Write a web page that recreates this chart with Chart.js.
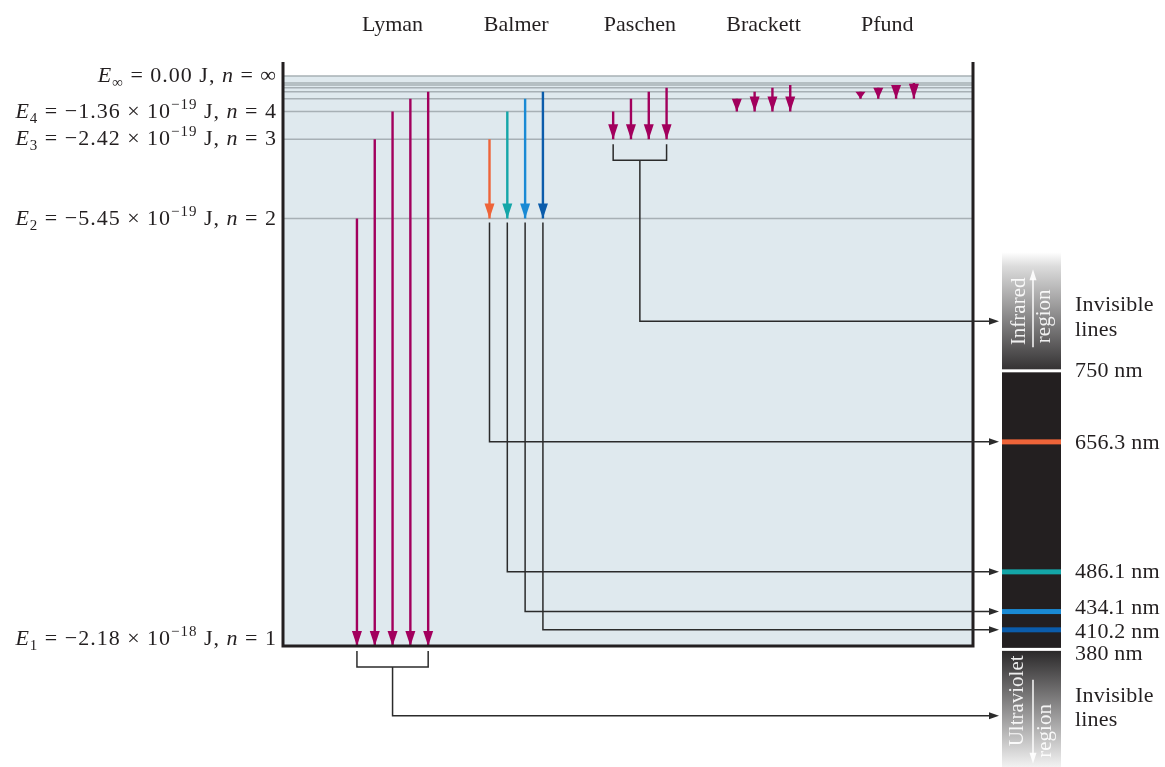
<!DOCTYPE html>
<html><head><meta charset="utf-8">
<script src="https://cdn.jsdelivr.net/npm/chart.js@4/dist/chart.umd.min.js"></script>
<style>html,body{margin:0;padding:0;background:#fff;}canvas{display:block;}</style>
</head><body>
<canvas id="c" width="1165" height="767"></canvas>
<script>
// ---------- data ----------
const seriesNames = ['Lyman', 'Balmer', 'Paschen', 'Brackett', 'Pfund'];
const seriesLower = [1, 2, 3, 4, 5];
const seriesUpper = [[2, 3, 4, 5, 6], [3, 4, 5, 6], [4, 5, 6, 7], [5, 6, 7, 8], [6, 7, 8, 9]];
const levelN = [1, 2, 3, 4, 5, 6, 7, 8, 9];
// energies in units of 1e-19 J
const levelEnergy = [-21.8, -5.45, -2.42, -1.36, -0.872, -0.606, -0.445, -0.341, -0.269];
const infinityEnergy = 0;
const labelN = ['∞', '4', '3', '2', '1'];
const labelSub = ['∞', '4', '3', '2', '1'];
const labelEnergy = [0, -1.36, -2.42, -5.45, -21.8];
const labelMantissa = ['0.00', '−1.36', '−2.42', '−5.45', '−2.18'];
const labelExponent = ['', '−19', '−19', '−19', '−18'];
const balmerWavelengths = [656.3, 486.1, 434.1, 410.2];
const balmerColors = ['#ee6439', '#14a6a8', '#1a8ad4', '#0b5cab'];
const visibleBounds = [750, 380];

// ---------- style ----------
const MAGENTA = '#a2005d';
const INK = '#231f20';
const SERIF = '"Liberation Serif", "Times New Roman", serif';
const arrowSpacing = 0.144;
const balmerLabelNudge = [1, 0, -3, 2];

const E = n => levelEnergy[n - 1];
const arrowX = (s, k) => s + (k - (seriesUpper[s].length - 1) / 2) * arrowSpacing;

const datasets = [];
seriesUpper.forEach((ups, s) => {
  ups.forEach((u, k) => {
    const col = s === 1 ? balmerColors[k] : MAGENTA;
    datasets.push({
      isArrow: true,
      data: [{ x: arrowX(s, k), y: E(u) }, { x: arrowX(s, k), y: E(seriesLower[s]) }],
      borderColor: col, backgroundColor: col, borderWidth: 2.4,
      showLine: true, pointRadius: 0, order: 1, clip: false
    });
  });
});
[...levelEnergy, infinityEnergy].forEach(e => {
  datasets.push({
    data: [{ x: -0.886, y: e }, { x: 4.694, y: e }],
    borderColor: '#a7b0b5', borderWidth: 1.5, showLine: true, pointRadius: 0, order: 2, clip: false
  });
});

function richRight(ctx, segs, xr, yb) {
  let w = 0;
  segs.forEach(s => { ctx.font = s.f; w += ctx.measureText(s.t).width; });
  let x = xr - w;
  segs.forEach(s => {
    ctx.font = s.f;
    ctx.fillText(s.t, x, yb + (s.dy || 0));
    x += ctx.measureText(s.t).width;
  });
}

function arrowHeadH(ctx, x, y, len, hw) {
  ctx.beginPath();
  ctx.moveTo(x, y);
  ctx.lineTo(x - len, y - hw);
  ctx.lineTo(x - len, y + hw);
  ctx.closePath();
  ctx.fill();
}

const diagram = {
  id: 'diagram',
  beforeDatasetsDraw(chart) {
    const { ctx, chartArea: a } = chart;
    ctx.save();
    ctx.fillStyle = '#dfe9ee';
    ctx.fillRect(a.left, a.top, a.right - a.left, a.bottom - a.top);
    ctx.restore();
  },
  afterDatasetsDraw(chart) {
    const { ctx, chartArea: a } = chart;
    const xs = chart.scales.x, ys = chart.scales.y, yw = chart.scales.yw;
    ctx.save();
    // arrowheads
    chart.data.datasets.forEach((ds, i) => {
      if (!ds.isArrow) return;
      const m = chart.getDatasetMeta(i);
      const p0 = m.data[0], p1 = m.data[1];
      const len = Math.min(15, p1.y - p0.y);
      ctx.fillStyle = ds.borderColor;
      ctx.beginPath();
      ctx.moveTo(p1.x, p1.y);
      ctx.lineTo(p1.x - 5, p1.y - len);
      ctx.lineTo(p1.x + 5, p1.y - len);
      ctx.closePath();
      ctx.fill();
    });
    // box borders
    ctx.strokeStyle = INK; ctx.lineWidth = 3; ctx.lineCap = 'butt';
    ctx.beginPath();
    ctx.moveTo(a.left, a.top - 14); ctx.lineTo(a.left, a.bottom + 1.5);
    ctx.moveTo(a.right, a.top - 14); ctx.lineTo(a.right, a.bottom + 1.5);
    ctx.moveTo(a.left, a.bottom); ctx.lineTo(a.right, a.bottom);
    ctx.stroke();

    // level labels on the left
    ctx.fillStyle = INK; ctx.textBaseline = 'alphabetic'; ctx.textAlign = 'left';
    ctx.letterSpacing = '1px';
    const fr = '22px ' + SERIF, fi = 'italic 22px ' + SERIF, fs = '15px ' + SERIF;
    labelN.forEach((n, i) => {
      const y = ys.getPixelForValue(labelEnergy[i]);
      const yb = i === labelN.length - 1 ? y - 1 : y + 6;
      const segs = [{ t: 'E', f: fi }, { t: labelSub[i], f: fs, dy: 5 }];
      if (labelExponent[i]) {
        segs.push({ t: ' = ' + labelMantissa[i] + ' × 10', f: fr });
        segs.push({ t: labelExponent[i], f: fs, dy: -9 });
        segs.push({ t: ' J, ', f: fr });
      } else {
        segs.push({ t: ' = ' + labelMantissa[i] + ' J, ', f: fr });
      }
      segs.push({ t: 'n', f: fi }, { t: ' = ' + n, f: fr });
      richRight(ctx, segs, a.left - 6, yb);
    });
    ctx.letterSpacing = '0px';

    // series names
    ctx.font = '22px ' + SERIF; ctx.textAlign = 'center';
    seriesNames.forEach((nm, s) => ctx.fillText(nm, xs.getPixelForValue(s), 31));

    // spectrum column
    const sl = a.right + 29, sr = sl + 59, sw = sr - sl;
    const p750 = yw.getPixelForValue(visibleBounds[0]);
    const p380 = yw.getPixelForValue(visibleBounds[1]);
    const irTop = p750 - 118, irBot = p750 - 1;
    let g = ctx.createLinearGradient(0, irTop, 0, irBot);
    g.addColorStop(0, '#ffffff'); g.addColorStop(0.12, '#dcdcdc'); g.addColorStop(1, '#353334');
    ctx.fillStyle = g; ctx.fillRect(sl, irTop, sw, irBot - irTop);
    ctx.fillStyle = INK; ctx.fillRect(sl, p750 + 2, sw, (p380 - 5) - (p750 + 2));
    const uvTop = p380 - 2, uvBot = 767;
    g = ctx.createLinearGradient(0, uvTop, 0, uvBot);
    g.addColorStop(0, '#2b292a'); g.addColorStop(1, '#f2f2f2');
    ctx.fillStyle = g; ctx.fillRect(sl, uvTop, sw, uvBot - uvTop);
    balmerWavelengths.forEach((w, k) => {
      const y = yw.getPixelForValue(w);
      ctx.fillStyle = balmerColors[k];
      ctx.fillRect(sl, y - 2.5, sw, 5);
    });

    // rotated region texts
    ctx.fillStyle = 'rgba(255,255,255,0.9)'; ctx.strokeStyle = 'rgba(255,255,255,0.9)';
    ctx.font = '21px ' + SERIF; ctx.textAlign = 'center'; ctx.textBaseline = 'alphabetic';
    const rot = (t, x, y) => { ctx.save(); ctx.translate(x, y); ctx.rotate(-Math.PI / 2); ctx.fillText(t, 0, 0); ctx.restore(); };
    rot('Infrared', sl + 23, p750 - 59);
    rot('region', sl + 48, p750 - 54);
    rot('Ultraviolet', sl + 21, p380 + 48);
    rot('region', sl + 49, p380 + 78);
    ctx.lineWidth = 1.6;
    let ax = sl + 31;
    ctx.beginPath(); ctx.moveTo(ax, p750 - 23); ctx.lineTo(ax, p750 - 92); ctx.stroke();
    ctx.beginPath(); ctx.moveTo(ax, p750 - 101); ctx.lineTo(ax - 3.5, p750 - 90); ctx.lineTo(ax + 3.5, p750 - 90); ctx.closePath(); ctx.fill();
    ctx.beginPath(); ctx.moveTo(ax, p380 + 27); ctx.lineTo(ax, p380 + 102); ctx.stroke();
    ctx.beginPath(); ctx.moveTo(ax, p380 + 111); ctx.lineTo(ax - 3.5, p380 + 100); ctx.lineTo(ax + 3.5, p380 + 100); ctx.closePath(); ctx.fill();

    // right labels
    ctx.fillStyle = INK; ctx.font = '22px ' + SERIF; ctx.textAlign = 'left'; ctx.textBaseline = 'middle';
    ctx.letterSpacing = '0.2px';
    const lx = sr + 14;
    ctx.fillText(visibleBounds[0] + ' nm', lx, p750 + 1);
    ctx.fillText(visibleBounds[1] + ' nm', lx, p380 + 1);
    balmerWavelengths.forEach((w, k) => ctx.fillText(w.toFixed(1) + ' nm', lx, yw.getPixelForValue(w) + balmerLabelNudge[k]));
    ctx.fillText('Invisible', lx, p750 - 65);
    ctx.fillText('lines', lx, p750 - 40);
    ctx.fillText('Invisible', lx, p380 + 43);
    ctx.fillText('lines', lx, p380 + 67);
    ctx.letterSpacing = '0px';

    // connectors
    ctx.strokeStyle = '#2b2b2b'; ctx.fillStyle = '#2b2b2b'; ctx.lineWidth = 1.5;
    const tipX = sl - 3;
    const poly = pts => { ctx.beginPath(); ctx.moveTo(pts[0][0], pts[0][1]); pts.slice(1).forEach(p => ctx.lineTo(p[0], p[1])); ctx.stroke(); };
    const bracket = (s, yTarget) => {
      const n = seriesUpper[s].length;
      const xa = xs.getPixelForValue(arrowX(s, 0)), xb = xs.getPixelForValue(arrowX(s, n - 1));
      const xc = xs.getPixelForValue(s);
      const yl = ys.getPixelForValue(E(seriesLower[s]));
      poly([[xa, yl + 5], [xa, yl + 21], [xb, yl + 21], [xb, yl + 5]]);
      poly([[xc, yl + 21], [xc, yTarget], [tipX - 8, yTarget]]);
      arrowHeadH(ctx, tipX, yTarget, 10, 3.5);
    };
    bracket(0, p380 + 63);
    bracket(2, p750 - 49);
    const yE2 = ys.getPixelForValue(E(2));
    balmerWavelengths.forEach((w, k) => {
      const x = xs.getPixelForValue(arrowX(1, k));
      const y = yw.getPixelForValue(w);
      poly([[x, yE2 + 4], [x, y], [tipX - 8, y]]);
      arrowHeadH(ctx, tipX, y, 10, 3.5);
    });
    ctx.restore();
  }
};

new Chart(document.getElementById('c'), {
  type: 'scatter',
  data: { datasets },
  options: {
    responsive: false, animation: false,
    layout: { padding: { left: 283, right: 192, top: 76, bottom: 121 } },
    plugins: { legend: { display: false }, tooltip: { enabled: false } },
    scales: {
      x: { type: 'linear', min: -0.886, max: 4.694, display: false },
      y: { type: 'linear', min: -21.8, max: 0, display: false },
      yw: { type: 'linear', min: 389.0, max: 1135.4, display: false }
    }
  },
  plugins: [diagram]
});
</script>
</body></html>
